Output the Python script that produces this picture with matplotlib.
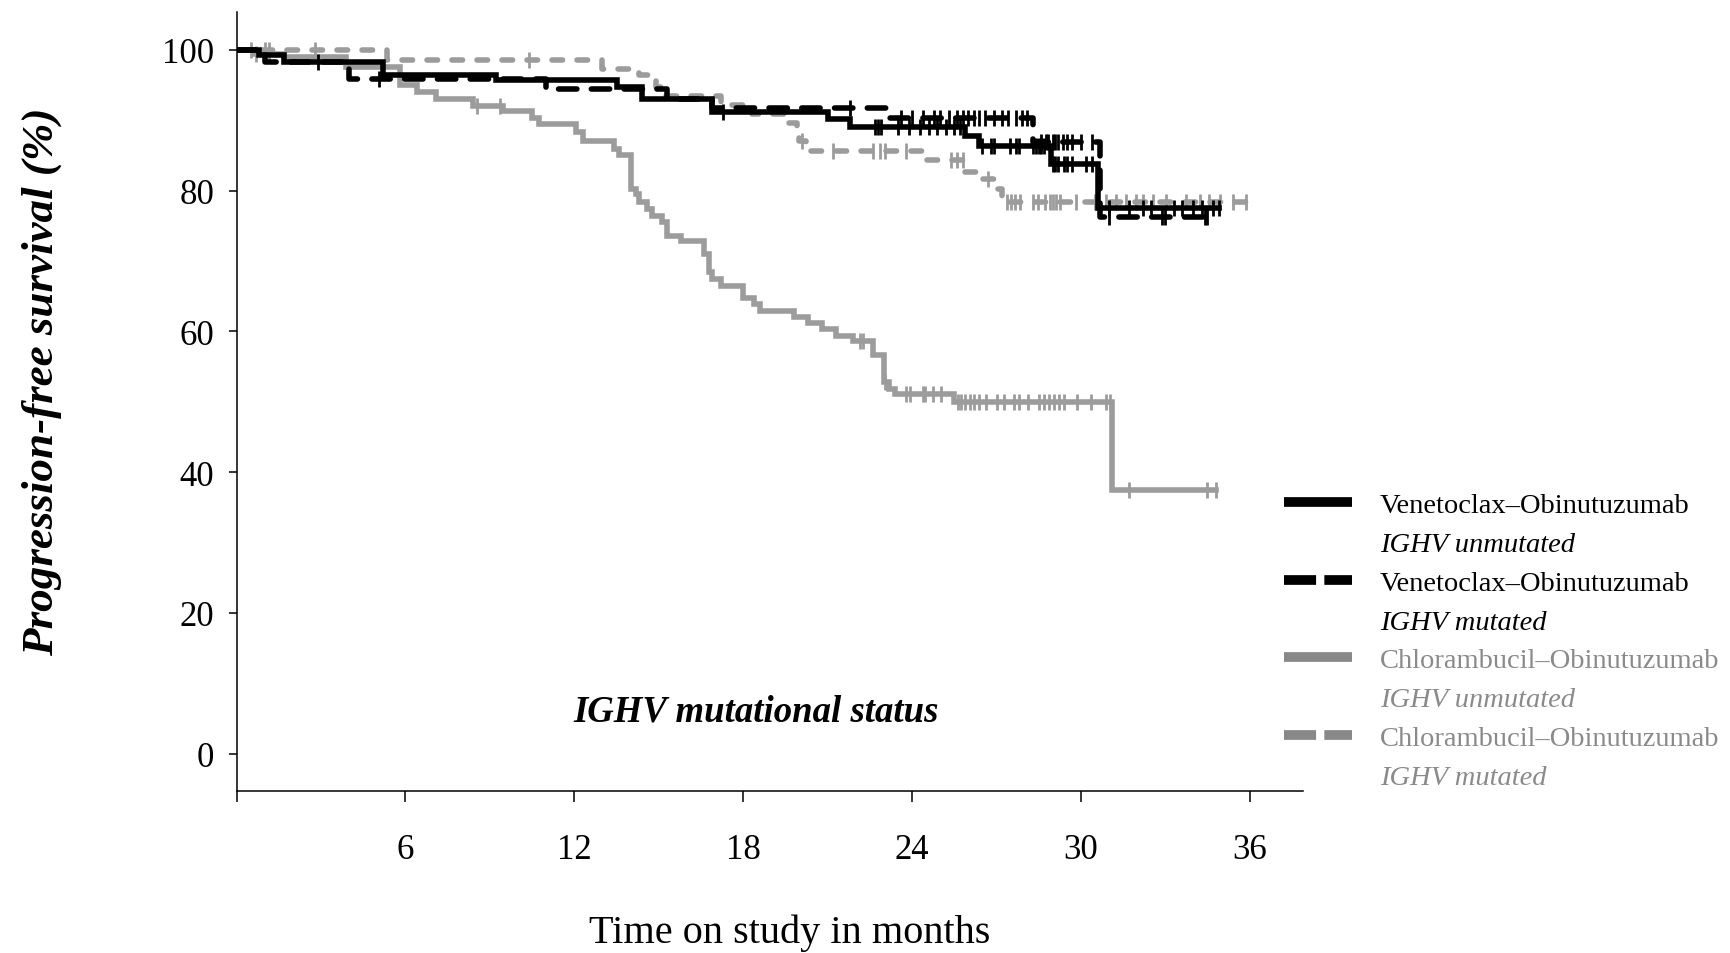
import numpy as np
import matplotlib
matplotlib.use("Agg")
import matplotlib.pyplot as plt
from matplotlib.lines import Line2D

plt.rcParams['font.family'] = ['Liberation Serif', 'DejaVu Serif']

# ---------------- data ----------------
# Venetoclax-Obinutuzumab, IGHV unmutated
ven_unmut_t = [0, 0.8, 1.7, 5.2, 9.2, 13.5, 14.4, 16.9, 21.0, 21.8, 25.9, 26.4, 28.95, 30.6]
ven_unmut_s = [100, 99.3, 98.3, 96.4, 95.7, 94.7, 93.1, 91.2, 90.2, 89.1, 87.8, 86.3, 83.8, 77.6]
ven_unmut_end = 34.9
ven_unmut_cens = [2.9, 17.3, 22.7, 22.8, 22.9, 23.5, 23.9, 24.3, 24.6, 24.9, 25.2, 25.5, 25.7,
                  26.5, 26.8, 26.9, 27.5, 27.7, 27.8, 28.3, 28.4, 28.5, 28.6, 28.7,
                  29.0, 29.1, 29.2, 29.4, 29.5, 29.7, 30.2, 30.4,
                  31.0, 31.7, 32.2, 32.5, 33.3, 33.6, 34.0, 34.3, 34.7, 34.9]

# Venetoclax-Obinutuzumab, IGHV mutated
ven_mut_t = [0, 1.0, 4.0, 11.0, 15.3, 16.9, 23.2, 28.3, 30.7]
ven_mut_s = [100, 98.3, 95.9, 94.5, 93.0, 91.7, 90.3, 86.9, 76.3]
ven_mut_end = 34.6
ven_mut_cens = [5.05, 21.8, 23.6, 24.0, 24.4, 24.8, 25.0, 25.3, 25.6, 25.8, 26.0, 26.2, 26.4,
                26.6, 26.9, 27.2, 27.4, 27.7, 27.9, 28.1,
                28.6, 28.75, 28.85, 29.0, 29.1, 29.2, 29.35, 29.5, 29.7, 30.0, 30.4,
                31.0, 32.9, 33.0, 34.4, 34.5]

# Chlorambucil-Obinutuzumab, IGHV unmutated
chl_unmut_t = [0, 0.6, 1.7, 3.9, 5.8, 6.4, 7.1, 8.4, 9.45, 10.5, 10.75, 12.05, 12.3, 13.4, 13.6,
               14.0, 14.03, 14.2, 14.3, 14.6, 14.75, 15.1, 15.3, 15.8, 16.6, 16.8, 16.9, 17.2,
               18.0, 18.4, 18.6, 19.8, 20.3, 20.8, 21.3, 21.9, 22.6, 23.0, 23.2, 23.4, 25.5, 31.1]
chl_unmut_s = [100, 99.4, 99.0, 97.6, 95.0, 94.0, 93.1, 92.1, 91.3, 90.4, 89.5, 88.3, 87.0, 85.9,
               85.0, 84.3, 80.2, 79.5, 78.4, 77.4, 76.4, 75.5, 73.6, 72.9, 71.0, 68.4, 67.4, 66.5,
               64.8, 63.9, 62.9, 62.0, 61.2, 60.3, 59.4, 58.7, 56.6, 52.8, 51.8, 51.1, 49.9, 37.4]
chl_unmut_end = 34.8
chl_unmut_cens = [0.7, 1.15, 8.53, 9.35, 22.14, 22.26, 23.03, 23.80, 23.92, 24.39, 24.45, 24.75,
                  25.02, 25.63, 25.73, 25.87, 26.05, 26.22, 26.40, 26.64, 27.03, 27.26, 27.64,
                  27.82, 28.11, 28.53, 28.70, 28.88, 29.06, 29.24, 29.41, 29.86, 30.36, 30.89,
                  31.04, 31.7, 34.47, 34.8]

# Chlorambucil-Obinutuzumab, IGHV mutated
chl_mut_t = [0, 5.36, 13.0, 14.3, 14.9, 15.1, 17.2, 18.3, 19.5, 19.9, 20.0, 20.25, 24.4, 25.9,
             26.5, 26.9, 27.2]
chl_mut_s = [100, 98.6, 97.3, 96.4, 94.7, 93.4, 92.2, 90.9, 89.6, 88.6, 87.1, 85.7, 84.3, 82.7,
             81.6, 80.3, 78.4]
chl_mut_end = 36.05
chl_mut_cens = [0.5, 1.0, 1.15, 2.8, 10.4, 20.1, 21.2, 22.6, 22.85, 23.05, 23.8, 25.4, 25.6, 25.8,
                26.7, 27.36, 27.53, 27.65, 27.83, 28.30, 28.48, 28.72, 28.89, 29.01, 29.13,
                29.25, 29.84, 30.49, 30.90, 31.26, 31.61, 31.97, 32.20, 32.56, 33.03, 33.74,
                34.22, 34.57, 34.93, 35.40, 35.88]

x_ticks = [0, 6, 12, 18, 24, 30, 36]
x_tick_labels = ['', '6', '12', '18', '24', '30', '36']
y_ticks = [0, 20, 40, 60, 80, 100]

legend_titles = ['Venetoclax–Obinutuzumab', 'Venetoclax–Obinutuzumab',
                 'Chlorambucil–Obinutuzumab', 'Chlorambucil–Obinutuzumab']
legend_subtitles = ['IGHV unmutated', 'IGHV mutated', 'IGHV unmutated', 'IGHV mutated']

# ---------------- figure ----------------
fig = plt.figure(figsize=(17.31, 9.54), dpi=100)
ax = fig.add_axes([0.1367, 0.1698, 0.6161, 0.8166])

GRAY = '#9c9c9c'
BLACK = '#000000'
LW = 4.0


def step_value(t, s, x):
    idx = np.searchsorted(np.asarray(t), np.asarray(x), side='right') - 1
    return np.asarray(s)[idx]


def km(t, s, end, cens, color, dashed, dashes=None):
    tt = list(t) + [end]
    ss = list(s) + [s[-1]]
    kw = dict(color=color, lw=LW, solid_joinstyle='miter')
    if dashed:
        kw.update(dashes=dashes, dash_capstyle='round')
    ax.step(tt, ss, where='post', **kw)
    ax.plot(cens, step_value(t, s, cens), ls='none', marker='|', ms=11,
            mew=2.0, color=color)


km(chl_unmut_t, chl_unmut_s, chl_unmut_end, chl_unmut_cens, GRAY, False)
km(chl_mut_t, chl_mut_s, chl_mut_end, chl_mut_cens, GRAY, True, (1.9, 2.6))
km(ven_unmut_t, ven_unmut_s, ven_unmut_end, ven_unmut_cens, BLACK, False)
km(ven_mut_t, ven_mut_s, ven_mut_end, ven_mut_cens, BLACK, True, (3.3, 2.6))

ax.set_xlim(0, 37.9)
ax.set_ylim(-5.33, 105.4)
ax.set_xticks(x_ticks)
ax.set_xticklabels(x_tick_labels)
ax.set_yticks(y_ticks)
for sp in ['top', 'right']:
    ax.spines[sp].set_visible(False)
for sp in ['left', 'bottom']:
    ax.spines[sp].set_linewidth(1.1)
ax.tick_params(axis='x', direction='out', length=8, width=1.1, pad=22, labelsize=25)
ax.tick_params(axis='y', direction='out', length=6, width=1.1, pad=10, labelsize=25)

ax.set_ylabel('Progression-free survival (%)', fontsize=32.5, fontweight='bold',
              fontstyle='italic', va='center')
ax.yaxis.set_label_coords(-0.183, 0.526)
ax.set_xlabel('Time on study in months', fontsize=29, va='center')
ax.xaxis.set_label_coords(0.5186, -0.181)

ax.text(18.45, 6.0, 'IGHV mutational status', fontsize=26.5, fontweight='bold',
        fontstyle='italic', ha='center', va='center')

# legend
LEG_GRAY = '#888888'
handle_styles = [(BLACK, '-'), (BLACK, '--'), (LEG_GRAY, '-'), (LEG_GRAY, '--')]
handles, labels = [], []
for (c, ls), t1, t2 in zip(handle_styles, legend_titles, legend_subtitles):
    if ls == '-':
        h = Line2D([], [], color=c, lw=7, solid_capstyle='butt')
    else:
        h = Line2D([], [], color=c, lw=7, dashes=(3.3, 0.85), dash_capstyle='butt')
    handles += [h, Line2D([], [], color='none')]
    labels += [t1, t2]

leg = fig.legend(handles, labels, loc='upper left', bbox_to_anchor=(0.7418, 0.4827),
                 frameon=False, fontsize=20.5, handlelength=2.39, handletextpad=0.98,
                 labelspacing=0.45, borderpad=0, borderaxespad=0)
for i, txt in enumerate(leg.get_texts()):
    if i % 2 == 1:
        txt.set_fontstyle('italic')
    if i >= 4:
        txt.set_color('#8a8a8a')

fig.savefig('out.png', dpi=100)
